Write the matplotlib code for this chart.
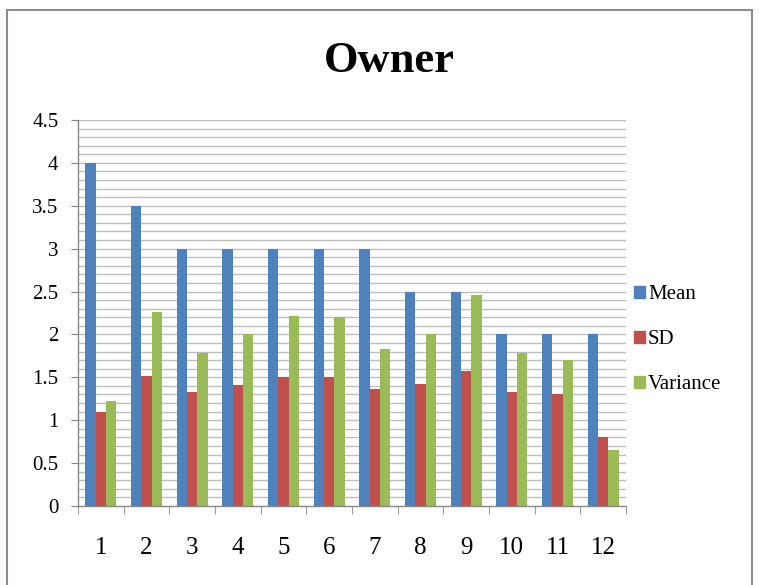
import numpy as np
import matplotlib.pyplot as plt
from matplotlib.patches import Patch, Rectangle
from matplotlib.ticker import FixedLocator

plt.rcParams['font.family'] = ['Liberation Serif', 'DejaVu Serif']

items = [str(i) for i in range(1, 13)]
mean = [4.0, 3.5, 3.0, 3.0, 3.0, 3.0, 3.0, 2.5, 2.5, 2.0, 2.0, 2.0]
sd = [1.10, 1.51, 1.33, 1.41, 1.50, 1.50, 1.36, 1.42, 1.57, 1.33, 1.31, 0.80]
variance = [1.22, 2.26, 1.78, 2.00, 2.21, 2.20, 1.83, 2.00, 2.46, 1.78, 1.70, 0.65]
yticks = [0, 0.5, 1, 1.5, 2, 2.5, 3, 3.5, 4, 4.5]

series = [("Mean", mean, "#4F81BD"),
          ("SD", sd, "#C0504D"),
          ("Variance", variance, "#9BBB59")]

fig = plt.figure(figsize=(7.59, 5.85), dpi=100)
ax = fig.add_axes([0.1028, 0.135, 0.722, 0.66])

x = np.arange(1, len(items) + 1)
w = 0.225
for k, (name, vals, col) in enumerate(series):
    ax.bar(x + (k - 1) * w, vals, width=w, color=col, zorder=3, label=name)

ax.set_xlim(0.5, 12.5)
ax.set_ylim(0, 4.5)

# light grid every 0.1, labelled ticks every 0.5
for v in np.arange(0.1, 4.51, 0.1):
    ax.axhline(v, color="#bdbdbd", lw=1.0, zorder=1)
ax.set_yticks(yticks)
ax.set_yticklabels([f"{v:g}" for v in yticks])
ax.tick_params(axis="y", direction="out", length=5, color="#868686",
               labelsize=15, pad=9)

ax.set_xticks(x)
ax.set_xticklabels(items)
ax.xaxis.set_minor_locator(FixedLocator(np.arange(0.5, 12.6, 1)))
ax.tick_params(axis="x", which="major", length=0, labelsize=18, pad=22)
ax.tick_params(axis="x", which="minor", direction="out", length=6,
               color="#868686")

for s in ["top", "right"]:
    ax.spines[s].set_visible(False)
for s in ["left", "bottom"]:
    ax.spines[s].set_color("#868686")
    ax.spines[s].set_linewidth(1.0)
    ax.spines[s].set_zorder(4)

fig.text(0.513, 0.895, "Owner", ha="center", va="center",
         fontsize=32, fontweight="bold")

handles = [Patch(color=c, label=n) for n, _, c in series]
ax.legend(handles=handles, loc="center left",
          bbox_to_anchor=(0.81, 0.419), bbox_transform=fig.transFigure,
          frameon=False, fontsize=15, handlelength=0.55, handleheight=0.55,
          handletextpad=0.15, labelspacing=1.25)

# outer chart border
fig.patches.append(Rectangle((7, -10), 745, 585, transform=None,
                             fill=False, edgecolor="#8c8c8c", lw=1.5))

fig.savefig("out.png", dpi=100)
